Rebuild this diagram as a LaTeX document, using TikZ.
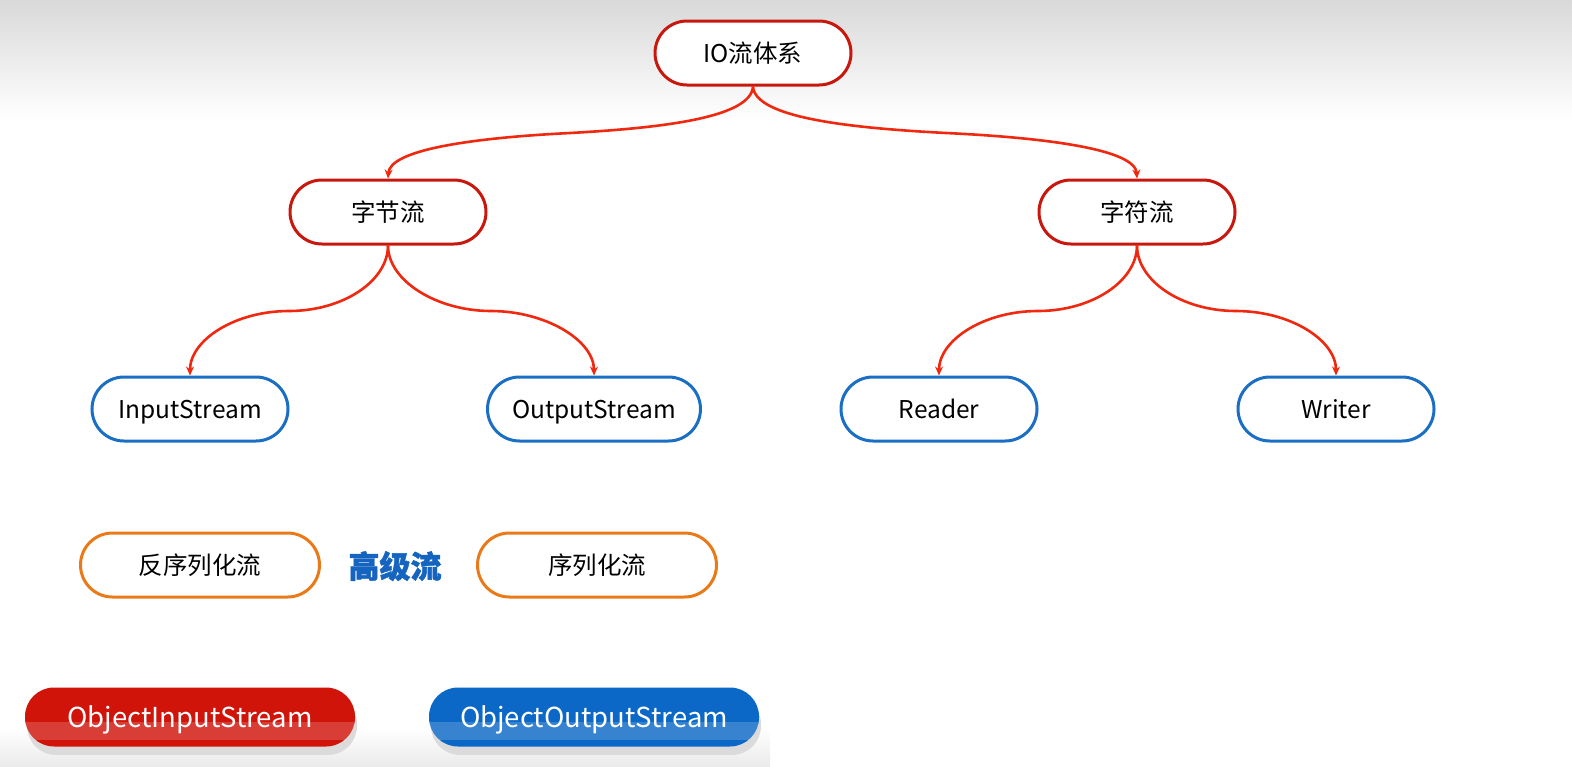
\documentclass[tikz,border=0pt]{standalone}
\usepackage{fontspec}
\setmainfont{Noto Sans CJK SC}
\newfontfamily\heavy[BoldFeatures={FakeBold=1.5}]{Noto Sans CJK SC}
\usetikzlibrary{arrows.meta,shadings}
\definecolor{nodered}{HTML}{C8180E}
\definecolor{arrred}{HTML}{F0280F}
\definecolor{nodeblue}{HTML}{1A6FC4}
\definecolor{nodeorange}{HTML}{EA7A18}
\definecolor{btnred}{HTML}{D0140A}
\definecolor{btnblue}{HTML}{0B68C6}
\definecolor{hiblue}{HTML}{1565C0}
\tikzset{
  pill/.style={draw, line width=3pt, fill=white, rounded corners=32pt,
    minimum height=64pt, minimum width=196pt, inner sep=0pt,
    text height=22pt, text depth=4pt,
    font=\fontsize{24.5}{28}\selectfont},
  rpill/.style={pill, draw=nodered},
  bpill/.style={pill, draw=nodeblue},
  opill/.style={pill, draw=nodeorange, minimum width=239pt},
  conn/.style={draw=arrred, line width=2.6pt, -{Stealth[length=9pt,width=8pt]}},
  btn/.style={rounded corners=29pt, minimum height=59pt, minimum width=330pt,
    inner sep=0pt},
  btntext/.style={text=white, font=\fontsize{27.5}{32}\selectfont,
    text height=24pt, text depth=4pt, inner sep=0pt}
}
\begin{document}
\begin{tikzpicture}[x=1pt,y=-1pt]
\useasboundingbox (0,0) rectangle (1572,766);
\fill[white] (0,0) rectangle (1572,766);
\shade[top color=black!15, bottom color=white] (0,0) rectangle (1572,120);
\shade[top color=white, bottom color=black!8] (0,728) rectangle (770,766);

% nodes
\node[rpill] (io) at (753,53) {IO流体系};
\node[rpill] (byte) at (388,212) {字节流};
\node[rpill] (char) at (1137,212) {字符流};
\node[bpill] (in) at (190,409) {InputStream};
\node[bpill, minimum width=213pt] (out) at (594,409) {OutputStream};
\node[bpill] (rd) at (939,409) {Reader};
\node[bpill] (wr) at (1336,409) {Writer};
\node[opill] (deser) at (200,565) {反序列化流};
\node[font=\fontsize{31}{34}\selectfont\heavy\bfseries, text=hiblue,
  text height=26pt, text depth=4pt] (adv) at (395,567) {高级流};
\node[opill] (ser) at (597,565) {序列化流};

% connectors
\draw[conn] (io.south) .. controls (751,118) and (660,128) .. (570,133)
  .. controls (470,138) and (390,150) .. (byte.north);
\draw[conn] (io.south) .. controls (755,118) and (851,128) .. (946,133)
  .. controls (1051,138) and (1135,150) .. (char.north);
\draw[conn] (byte.south) .. controls (388,281) and (343,311) .. (289,311)
  .. controls (235,311) and (190,340) .. (in.north);
\draw[conn] (byte.south) .. controls (388,281) and (437,311) .. (491,311)
  .. controls (545,311) and (594,340) .. (out.north);
\draw[conn] (char.south) .. controls (1137,281) and (1092,311) .. (1038,311)
  .. controls (984,311) and (939,340) .. (rd.north);
\draw[conn] (char.south) .. controls (1137,281) and (1182,311) .. (1236,311)
  .. controls (1290,311) and (1336,340) .. (wr.north);

% buttons
\fill[black!14, rounded corners=29pt] (27,695) rectangle (357,755);
\fill[black!14, rounded corners=29pt] (431,695) rectangle (761,755);
\node[btn, fill=btnred] (oin) at (190,717) {};
\node[btn, fill=btnblue] (oout) at (594,717) {};
\begin{scope}
\clip[rounded corners=29pt] (25,688) rectangle (355,747);
\fill[white, opacity=0.18] (25,722) rectangle (355,740);
\end{scope}
\begin{scope}
\clip[rounded corners=29pt] (429,688) rectangle (759,747);
\fill[white, opacity=0.18] (429,722) rectangle (759,740);
\end{scope}
\node[btntext] (tin) at (oin.center) {ObjectInputStream};
\node[btntext] (tout) at (oout.center) {ObjectOutputStream};
\end{tikzpicture}
\end{document}
